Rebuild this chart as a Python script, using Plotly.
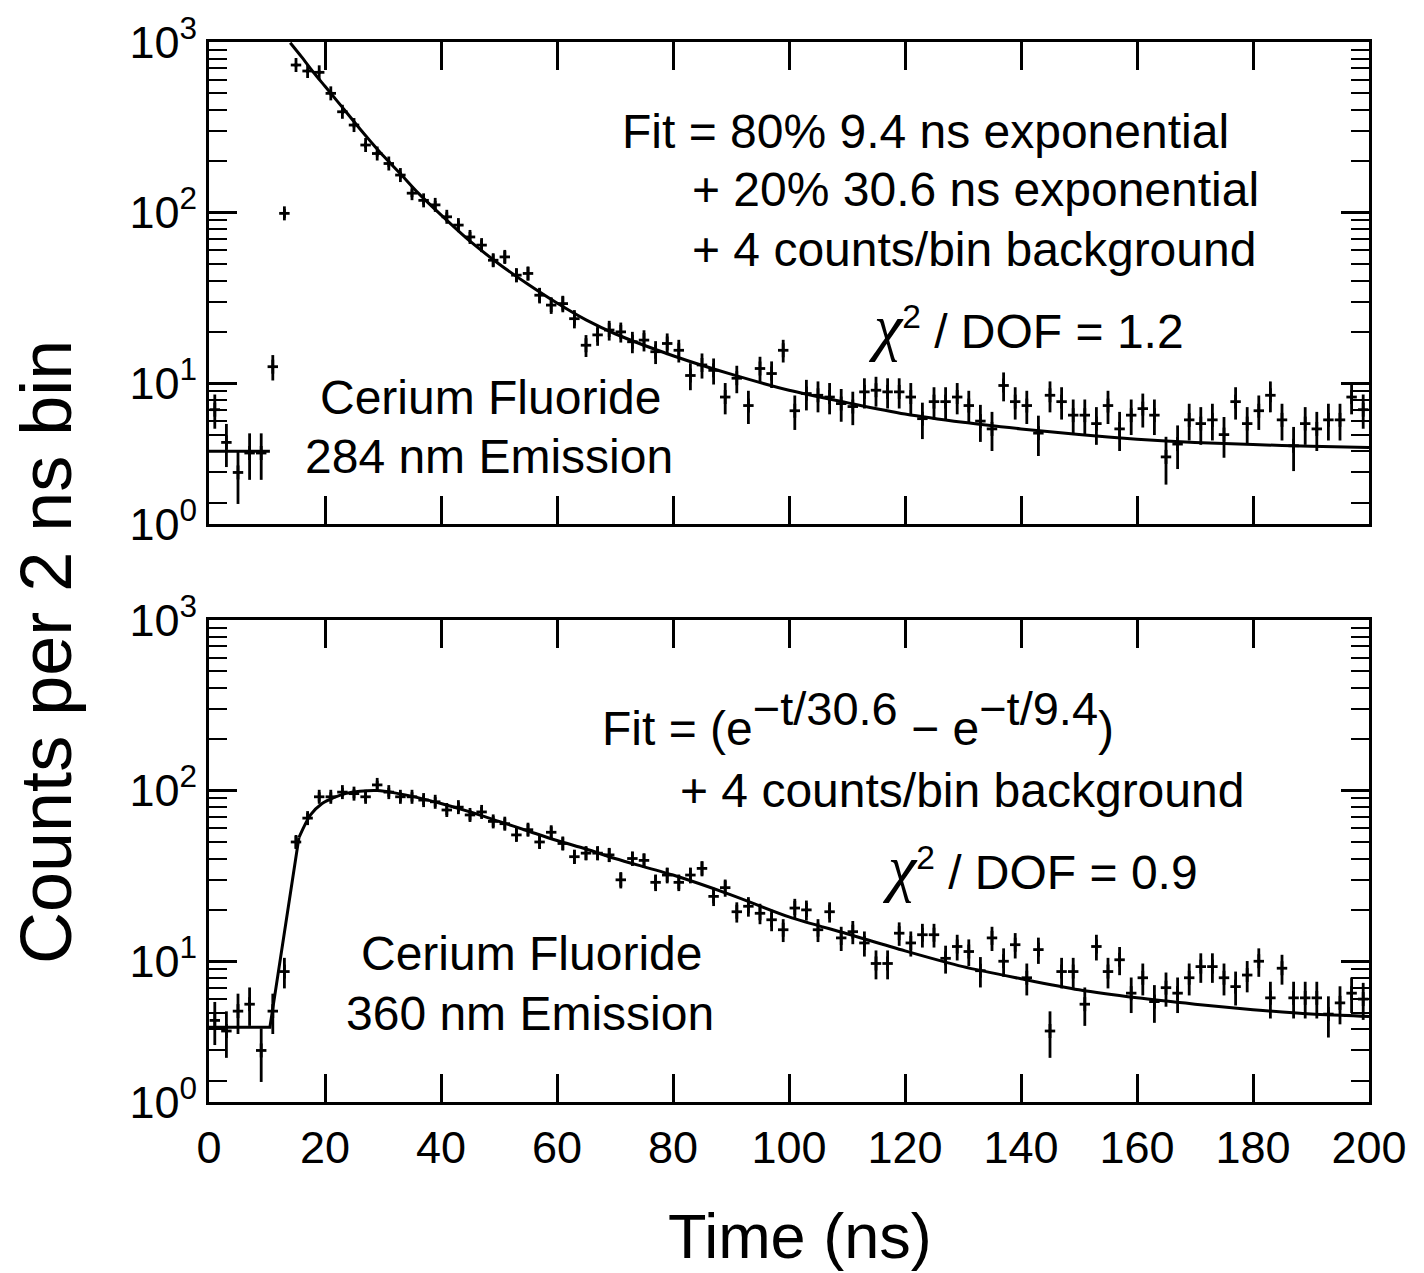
import math
import plotly.graph_objects as go

# ---------------- data ----------------
t_bins = list(range(1, 200, 2))  # 2 ns bin centres

counts_284 = [7.0, 4.5, 3.0, 3.9, 3.9, 12.5, 99, 733, 676, 664,
              500, 390, 326, 249, 222, 194, 166, 130, 118, 111,
              94.5, 84.5, 72, 64.5, 52.6, 55, 43, 44, 32.8, 28.7,
              29.3, 23.9, 16.7, 19.2, 20.5, 20.0, 17.5, 17.9, 15.3, 17.1,
              15.6, 11.1, 12.8, 11.9, 8.3, 10.7, 7.4, 12.2, 11.4, 15.6,
              6.9, 8.7, 8.5, 8.3, 7.6, 7.3, 8.9, 9.1, 8.9, 8.9,
              8.3, 6.2, 7.8, 7.8, 8.3, 7.4, 6.0, 5.4, 9.7, 7.8,
              7.4, 5.1, 8.5, 7.8, 6.5, 6.5, 5.8, 7.4, 5.4, 6.5,
              7.1, 6.5, 3.7, 4.4, 6.1, 5.8, 6.1, 5.0, 7.8, 5.8,
              6.9, 8.5, 6.1, 4.3, 5.8, 5.4, 6.1, 6.1, 8.3, 7.0]

counts_360 = [4.5, 3.9, 5.1, 5.6, 3.0, 5.1, 8.7, 50, 69, 92,
              92, 98, 96, 92, 108, 98, 92, 92, 88, 86,
              77, 80, 72, 75, 66, 64, 55, 59, 50, 57,
              49, 41, 43, 43, 42, 30, 40, 39, 29, 32,
              29, 32, 35, 24, 27, 19.5, 21, 19.1, 17.5, 15.3,
              20.5, 20, 15.3, 19.5, 13.7, 14.9, 12.8, 9.7, 9.7, 14.6,
              12.8, 14.3, 14.3, 10.4, 12.2, 11.4, 8.8, 13.7, 10, 12.5,
              8.0, 11.7, 3.9, 8.7, 8.7, 5.6, 12.2, 8.7, 10.2, 6.5,
              8.0, 5.8, 7.0, 6.5, 8.0, 9.3, 9.3, 8.0, 7.1, 8.3,
              10, 6.1, 9.1, 6.1, 6.1, 6.1, 4.9, 5.7, 6.5, 6.0]

# fit curves
fit284_flat_t = [0, 10.5]
fit284_flat = [4.0, 4.0]
fit284_t = [14, 16, 18, 20, 22, 24, 26, 28, 30, 33, 36, 40, 45, 50, 55, 60,
            65, 70, 80, 90, 100, 110, 120, 130, 140, 150, 160, 170, 180, 190, 200]
fit284 = [990, 815, 665, 550, 455, 376, 310, 258, 216, 169, 131, 97, 68, 50, 38,
          29.5, 23.5, 19.5, 14.5, 11.3, 9.1, 7.7, 6.6, 5.9, 5.4, 5.0, 4.7, 4.5,
          4.37, 4.27, 4.2]

fit360_rise_t = [0, 10.5, 15.5]
fit360_rise = [4.1, 4.1, 53]
fit360_t = [15.5, 17.5, 19.5, 21.5, 23.5, 26, 29, 32, 36, 40, 45, 50, 55, 60, 65,
            70, 80, 90, 100, 110, 120, 130, 140, 150, 160, 170, 180, 190, 200]
fit360 = [53, 72, 84, 91, 96, 99, 100, 97, 91, 84, 75, 66, 58, 51, 45.5,
          40, 32, 24.5, 18.2, 14.5, 11.5, 9.3, 7.9, 6.8, 6.1, 5.6, 5.2, 4.9, 4.75]

x_ticks = list(range(0, 201, 20))
y_low = 1.4962  # bottom edge of the printed axes (labelled 10^0 in the original)
y_tick_vals = [y_low, 10, 100, 1000]
y_tick_text = ["10<sup>0</sup>", "10<sup>1</sup>", "10<sup>2</sup>", "10<sup>3</sup>"]
y_minor_vals = [m * d for d in (1, 10, 100) for m in range(2, 10)]

# ---------------- geometry ----------------
W, H = 1424, 1273
L, R, T, B = 209, 55, 42, 171
PW, PH = W - L - R, H - T - B


def px(x):
    return (x - L) / PW


def py(y):
    return (H - B - y) / PH


FONT = "Liberation Sans, Arial, Helvetica, sans-serif"
BLACK = "black"


def err(vals):
    # counting-statistics bars, scaled to the drawn bar lengths
    return [0.6 * math.sqrt(v) for v in vals]


fig = go.Figure()


def add_panel(xa, ya, counts, flat_t, flat_v, curve_t, curve_v):
    fig.add_trace(go.Scatter(
        x=t_bins, y=counts, mode="markers", xaxis=xa, yaxis=ya,
        marker=dict(symbol="line-ns", size=10, color=BLACK,
                    line=dict(width=2.8, color=BLACK)),
        error_y=dict(type="data", array=err(counts), visible=True,
                     thickness=2.8, width=0, color=BLACK),
        error_x=dict(type="constant", value=0.9, visible=True,
                     thickness=2.8, width=0, color=BLACK),
        showlegend=False, hoverinfo="skip"))
    fig.add_trace(go.Scatter(
        x=flat_t, y=flat_v, mode="lines", xaxis=xa, yaxis=ya,
        line=dict(color=BLACK, width=3), showlegend=False, hoverinfo="skip"))
    fig.add_trace(go.Scatter(
        x=curve_t, y=curve_v, mode="lines", xaxis=xa, yaxis=ya,
        line=dict(color=BLACK, width=3, shape="spline", smoothing=0.8),
        showlegend=False, hoverinfo="skip"))


add_panel("x", "y", counts_284, fit284_flat_t, fit284_flat, fit284_t, fit284)
add_panel("x2", "y2", counts_360, fit360_rise_t, fit360_rise, fit360_t, fit360)

xcommon = dict(range=[0, 200], tickmode="array", tickvals=x_ticks,
               ticks="inside", ticklen=28, tickwidth=2.5, tickcolor=BLACK,
               showline=True, linewidth=3, linecolor=BLACK, mirror="ticks",
               showgrid=False, zeroline=False,
               tickfont=dict(family=FONT, size=45, color=BLACK))
ycommon = dict(type="log", range=[math.log10(y_low), 3], tickmode="array",
               tickvals=y_tick_vals, ticktext=y_tick_text,
               ticks="inside", ticklen=28, tickwidth=2.5, tickcolor=BLACK,
               showline=True, linewidth=3, linecolor=BLACK, mirror="ticks",
               showgrid=False, zeroline=False,
               tickfont=dict(family=FONT, size=45, color=BLACK),
               minor=dict(tickmode="array", tickvals=y_minor_vals, ticks="inside",
                          ticklen=18, tickwidth=2, tickcolor=BLACK, showgrid=False))

fig.update_layout(
    width=W, height=H,
    margin=dict(l=L, r=R, t=T, b=B, pad=0),
    paper_bgcolor="white", plot_bgcolor="white",
    template="none",
    font=dict(family=FONT, color=BLACK, size=48),
    xaxis=dict(xcommon, anchor="y", domain=[0, 1], showticklabels=False),
    yaxis=dict(ycommon, anchor="x", domain=[py(524), 1.0]),
    xaxis2=dict(xcommon, anchor="y2", domain=[0, 1], showticklabels=True,
                ticklabelstandoff=4),
    yaxis2=dict(ycommon, anchor="x2", domain=[0.0, py(620)]),
)

CHI = "<span style='font-family:Liberation Serif;font-size:64px'><i>χ</i></span>"


def note(text, x, y, xanchor="left", yanchor="middle", size=48, angle=0):
    fig.add_annotation(text=text, x=px(x), y=py(y), xref="paper", yref="paper",
                       xanchor=xanchor, yanchor=yanchor, showarrow=False,
                       textangle=angle,
                       font=dict(family=FONT, size=size, color=BLACK))


# top panel texts
note("Fit = 80% 9.4 ns exponential", 620, 131)
note("+ 20% 30.6 ns exponential", 690, 190)
note("+ 4 counts/bin background", 690, 250)
note(CHI + "<sup>2</sup> / DOF = 1.2", 866, 326)
note("Cerium Fluoride", 490, 397, xanchor="center")
note("284 nm Emission", 489, 457, xanchor="center")

# bottom panel texts
SUP = "<sup><span style='font-size:47px'>%s</span></sup>"
note("Fit = (e" + SUP % "−t/30.6" + " − e" + SUP % "−t/9.4" + ")", 600, 757,
     yanchor="bottom")
note("+ 4 counts/bin background", 678, 790)
note(CHI + "<sup>2</sup> / DOF = 0.9", 880, 868)
note("Cerium Fluoride", 531, 953, xanchor="center")
note("360 nm Emission", 530, 1013, xanchor="center")

# axis titles
note("Time (ns)", 800, 1236, xanchor="center", size=63)
note("Counts per 2 ns bin", 46, 652, xanchor="center", size=72, angle=-90)

fig.write_html("out.html")
